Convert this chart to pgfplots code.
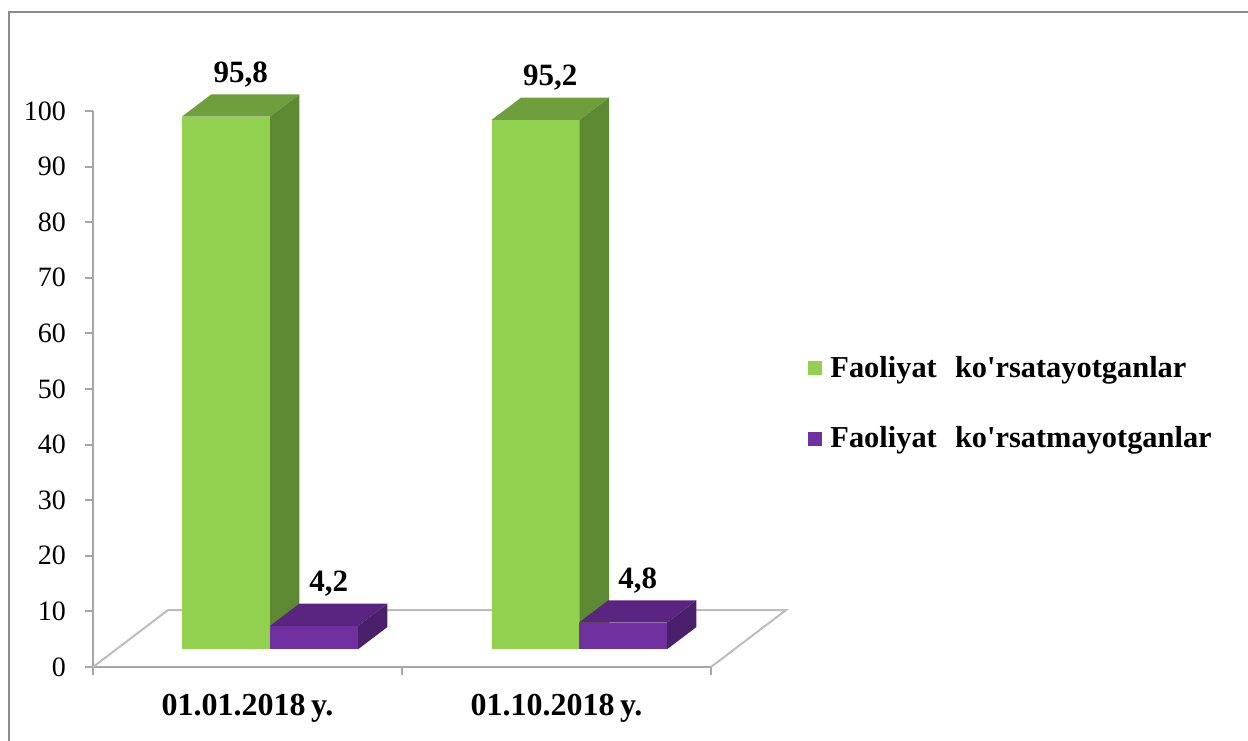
\documentclass[border=0pt]{standalone}
\usepackage{pgfplots}
\pgfplotsset{compat=1.18}
\usepackage{fontspec}
\setmainfont{Liberation Serif}

\definecolor{gfront}{HTML}{92D050}
\definecolor{gtop}{HTML}{6E9F3C}
\definecolor{gside}{HTML}{5E8933}
\definecolor{pfront}{HTML}{7030A0}
\definecolor{ptop}{HTML}{592581}
\definecolor{pside}{HTML}{4A1F6B}
\definecolor{axgray}{HTML}{A6A6A6}
\definecolor{floorgray}{HTML}{BDBDBD}
\definecolor{framegray}{HTML}{8C8C8C}

% 3D-looking bar: #1 left edge of front face, #2 value, #3-#5 face colours
\newcommand{\cuboid}[5]{%
  \pgfmathsetmacro{\xa}{#1}%
  \pgfmathsetmacro{\xb}{#1+0.285}%
  \pgfmathsetmacro{\xc}{#1+0.285+0.095}%
  \pgfmathsetmacro{\xd}{#1+0.095}%
  \pgfmathsetmacro{\xm}{#1+0.19}%
  \pgfmathsetmacro{\ya}{3.2}%
  \pgfmathsetmacro{\yb}{3.2+#2}%
  \pgfmathsetmacro{\yc}{3.2+#2+4}%
  \pgfmathsetmacro{\yd}{3.2+4}%
  \addplot[draw=none, fill=#3, forget plot] coordinates {(\xa,\ya) (\xb,\ya) (\xb,\yb) (\xa,\yb)} --cycle;
  \addplot[draw=none, fill=#4, forget plot] coordinates {(\xa,\yb) (\xb,\yb) (\xc,\yc) (\xd,\yc)} --cycle;
  \addplot[draw=none, fill=#5, forget plot] coordinates {(\xb,\ya) (\xc,\yd) (\xc,\yc) (\xb,\yb)} --cycle;
  \addplot[draw=none, forget plot, point meta=explicit, nodes near coords,
    nodes near coords style={anchor=base, yshift=6pt, inner sep=0pt,
      font=\bfseries\fontsize{15.5}{18}\selectfont,
      /pgf/number format/.cd, fixed, fixed zerofill, precision=1, use comma}]
    coordinates {(\xm,\yc) [#2]};
}

\begin{document}
\begin{tikzpicture}
\useasboundingbox (-46.5pt,-36.5pt) rectangle (577.5pt,333.5pt);
\draw[framegray, line width=1.1pt] (-42pt,-45pt) -- (-42pt,327.5pt) -- (590pt,327.5pt);
\begin{axis}[
  at={(0,0)}, anchor=south west,
  scale only axis,
  width=309pt, height=278pt,
  xmin=0, xmax=2, ymin=0, ymax=100,
  clip=false,
  axis lines=left,
  axis line style={-, draw=axgray, line width=1pt},
  tick align=outside,
  major tick length=4pt,
  tick style={draw=axgray, line width=1pt},
  ytick={0,10,...,100},
  xtick={0,1,2},
  xticklabels={,,},
  extra x ticks={0.5,1.5},
  extra x tick labels={01.01.2018\,y., 01.10.2018\,y.},
  extra x tick style={major tick length=0pt,
    tick label style={font=\bfseries\fontsize{16}{18}\selectfont, yshift=-10pt}},
  yticklabel style={font=\fontsize{14}{16}\selectfont, xshift=-6pt},
  /pgf/number format/assume math mode=true,
  legend style={at={(1.157,0.474)}, anchor=west, draw=none, fill=none,
    inner sep=0pt, row sep=19pt,
    font=\bfseries\fontsize{15.2}{18}\selectfont,
    /tikz/every odd column/.append style={column sep=2pt}},
  legend cell align=left,
  legend image code/.code={\fill[#1] (0pt,-3.5pt) rectangle (7pt,3.5pt);},
]
% floor
\addplot[draw=floorgray, line width=1pt, forget plot] coordinates {(0,0) (0.243,10.25) (2.243,10.25) (2,0)};

\cuboid{0.288}{95.8}{gfront}{gtop}{gside}
\cuboid{0.573}{4.2}{pfront}{ptop}{pside}
\cuboid{1.290}{95.2}{gfront}{gtop}{gside}
\cuboid{1.573}{4.8}{pfront}{ptop}{pside}

\addlegendimage{fill=gfront, draw=none}
\addlegendentry{Faoliyat\hspace{0.6em}ko\textquotesingle rsatayotganlar}
\addlegendimage{fill=pfront, draw=none}
\addlegendentry{Faoliyat\hspace{0.6em}ko\textquotesingle rsatmayotganlar}
\end{axis}
\end{tikzpicture}
\end{document}
